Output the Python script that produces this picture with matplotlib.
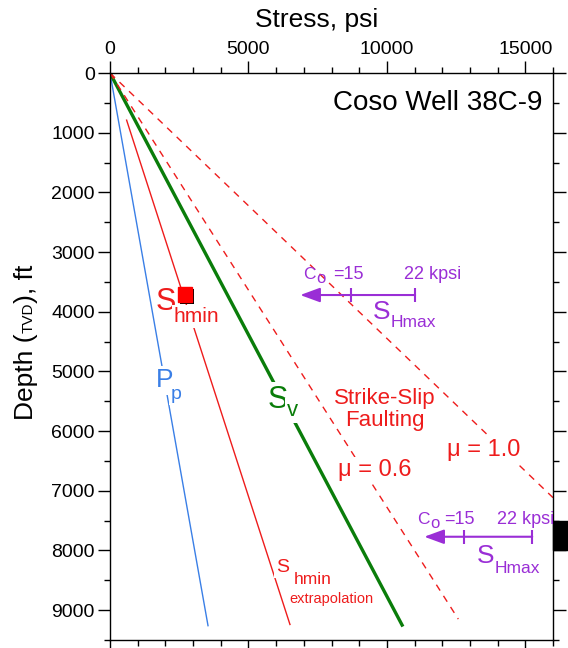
import matplotlib
matplotlib.use('Agg')
import matplotlib.pyplot as plt
import matplotlib.patheffects as pe
from matplotlib.ticker import MultipleLocator
from matplotlib.patches import Rectangle

plt.rcParams['font.family'] = ['Liberation Sans', 'DejaVu Sans']

# stress (psi) vs depth (ft, TVD)
pp_stress = [0, 3540]
pp_depth = [0, 9260]
sv_stress = [0, 10550]
sv_depth = [0, 9250]
shmin_stress = [600, 6500]
shmin_depth = [790, 9240]
mu06_stress = [0, 12580]
mu06_depth = [0, 9150]
mu10_stress = [0, 16000]
mu10_depth = [0, 7115]
shmin_meas_stress = [2710]
shmin_meas_depth = [3710]
# SHmax: arrow tip, Co=15 kpsi, Co=22 kpsi
shmax_upper = [6870, 8710, 11020]
shmax_upper_depth = 3720
shmax_lower = [11350, 12790, 15250]
shmax_lower_depth = 7770
marked_interval = [7500, 8000]

RED = '#ee1c1c'
BLUE = '#3a7fe6'
GREEN = '#0a7d0a'
PURPLE = '#9a2ed6'

W, H = 568, 648
fig = plt.figure(figsize=(W / 100, H / 100), dpi=100)
ax = fig.add_axes([110 / W, 1 - 640 / H, 443 / W, 567 / H])

ax.plot(pp_stress, pp_depth, color=BLUE, lw=1.0, zorder=2)
ax.plot(shmin_stress, shmin_depth, color=RED, lw=1.0, zorder=2)
ax.plot(sv_stress, sv_depth, color=GREEN, lw=2.4, zorder=2)
ax.plot(mu06_stress, mu06_depth, color=RED, lw=1.0, dashes=(5, 4.5), zorder=2)
ax.plot(mu10_stress, mu10_depth, color=RED, lw=1.0, dashes=(5, 4.5), zorder=2)
ax.plot(shmin_meas_stress, shmin_meas_depth, ls='none', marker='s', ms=10.5,
        color='#ff0000', mec='#ff0000', zorder=6,
        path_effects=[pe.SimplePatchShadow(offset=(1.5, -1.5), shadow_rgbFace='k', alpha=1),
                      pe.Normal()])


def shmax(vals, depth):
    ax.annotate('', xy=(vals[0], depth), xytext=(vals[2], depth),
                arrowprops=dict(arrowstyle='-|>,head_length=0.6,head_width=0.22',
                                mutation_scale=20, color=PURPLE, lw=1.5,
                                shrinkA=0, shrinkB=0), zorder=4)
    ax.plot(vals[1:], [depth, depth], ls='none', marker='|', ms=9.5, mew=1.5,
            color=PURPLE, zorder=4)


shmax(shmax_upper, shmax_upper_depth)
shmax(shmax_lower, shmax_lower_depth)


def lab(x, y, s, color, size, box=True):
    kw = {}
    if box:
        kw['bbox'] = dict(facecolor='white', edgecolor='none', pad=1.5)
    ax.text(x, y, s, color=color, fontsize=size, ha='left', va='baseline',
            zorder=5, clip_on=False, **kw)


lab(1630, 3977, 'S', RED, 22, box=False)
lab(2300, 4178, 'hmin', RED, 15)
lab(1662, 5269, 'P', BLUE, 19)
lab(2200, 5454, 'p', BLUE, 14)
lab(5680, 5605, 'S', GREEN, 22)
lab(6400, 5739, 'v', GREEN, 16)
ax.text(9939, 5554, 'Strike-Slip', color=RED, fontsize=16, ha='center', va='baseline')
ax.text(9939, 5907, 'Faulting', color=RED, fontsize=16, ha='center', va='baseline')
lab(8240, 6746, 'μ = 0.6', RED, 17)
lab(12179, 6410, 'μ = 1.0', RED, 17)
lab(6000, 8356, 'S', RED, 14)
lab(6650, 8558, 'hmin', RED, 12.5, box=False)
lab(6469, 8877, 'extrapolation', RED, 10.5, box=False)

# SHmax labels
lab(6975, 3457, 'C', PURPLE, 12.5, box=False)
lab(7460, 3524, 'o', PURPLE, 12, box=False)
lab(8059, 3457, '=15', PURPLE, 13, box=False)
lab(10625, 3457, '22 kpsi', PURPLE, 13, box=False)
lab(9505, 4128, 'S', PURPLE, 19, box=False)
lab(10150, 4262, 'Hmax', PURPLE, 12.5, box=False)
lab(11095, 7551, 'C', PURPLE, 12.5, box=False)
lab(11580, 7618, 'o', PURPLE, 12, box=False)
lab(12050, 7551, '=15', PURPLE, 13, box=False)
lab(13986, 7551, '22 kpsi', PURPLE, 13, box=False)
lab(13263, 8205, 'S', PURPLE, 19, box=False)
lab(13880, 8373, 'Hmax', PURPLE, 12.5, box=False)

ax.text(15612, 621, 'Coso Well 38C-9', ha='right', va='baseline', fontsize=20)

ax.add_patch(Rectangle((16000, marked_interval[0]), 700, marked_interval[1] - marked_interval[0],
                       color='black', clip_on=False))

ax.set_xlim(0, 16000)
ax.set_ylim(9500, 0)
ax.xaxis.set_major_locator(MultipleLocator(5000))
ax.xaxis.set_minor_locator(MultipleLocator(1000))
ax.yaxis.set_major_locator(MultipleLocator(1000))
ax.yaxis.set_minor_locator(MultipleLocator(500))
ax.tick_params(axis='x', which='both', top=True, bottom=True, labeltop=True,
               labelbottom=False, direction='out')
ax.tick_params(axis='y', which='both', left=True, right=True, labelleft=True,
               labelright=False, direction='out')
ax.tick_params(which='major', length=9, width=1, labelsize=14, pad=2)
ax.tick_params(which='minor', length=4.5, width=1)
for s in ax.spines.values():
    s.set_linewidth(1)

fig.text(317 / W, 1 - 27 / H, 'Stress, psi', ha='center', va='baseline', fontsize=19)

renderer = fig.canvas.get_renderer()
y = 1 - 420 / H
for s, fs in [('Depth (', 19), ('TVD', 11), ('), ft', 19)]:
    t = fig.text(33 / W, y, s, rotation=90, rotation_mode='anchor', ha='left',
                 va='baseline', fontsize=fs)
    y += t.get_window_extent(renderer).height / fig.bbox.height

fig.savefig('out.png', dpi=100)
